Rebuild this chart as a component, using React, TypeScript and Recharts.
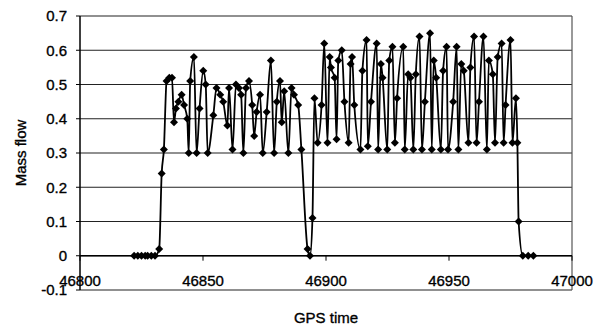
import React from "react";
import { LineChart, Line, XAxis, YAxis, CartesianGrid, ReferenceLine, Label } from "recharts";

const times = [
  46822, 46823.5, 46825, 46826.5, 46827.5, 46829, 46830.5, 46832.2, 46833.2, 46834.1,
  46835.2, 46836.3, 46837.4, 46838.2, 46839, 46840, 46841.3, 46842.3, 46843.6, 46844.2,
  46844.8, 46846.3, 46847.4, 46848.6, 46850.1, 46851.1, 46851.9, 46854.2, 46855.5, 46857,
  46858.2, 46859.9, 46860.6, 46862, 46863.4, 46864.6, 46865.5, 46866.4, 46867.5, 46868.7,
  46870, 46870.8, 46871.8, 46873.2, 46874.3, 46875.9, 46877.6, 46878.9, 46880, 46881.3,
  46882, 46883, 46884.7, 46886, 46887, 46888.7, 46890, 46892.5, 46893.5, 46894.5,
  46895.3, 46896.6, 46898.2, 46899.3, 46900.6, 46901.5, 46902, 46903.5, 46904.3, 46905,
  46906.4, 46907.5, 46909.2, 46910, 46910.6, 46911.5, 46914, 46914.8, 46916.5, 46917,
  46918.3, 46920.6, 46921.2, 46922.3, 46923, 46924.9, 46925.7, 46927, 46928, 46928.9,
  46931.4, 46932, 46933.4, 46934.3, 46935.5, 46936.5, 46938, 46939, 46940.2, 46942.3,
  46943, 46943.8, 46944.8, 46946.7, 46947.6, 46949, 46949.6, 46951.7, 46953.1, 46953.8,
  46955, 46956, 46957.9, 46958.7, 46960.2, 46961.2, 46962.2, 46964, 46965.4, 46966.2,
  46967.8, 46968.7, 46969.8, 46971.4, 46972.2, 46973, 46975, 46975.8, 46977.2, 46977.8,
  46978.3, 46980, 46982.2, 46984.3,
];

const flows = [
  0, 0, 0, 0, 0, 0, 0, 0.02, 0.24, 0.31,
  0.51, 0.52, 0.52, 0.39, 0.43, 0.45, 0.47, 0.44, 0.4, 0.3,
  0.51, 0.58, 0.3, 0.43, 0.54, 0.5, 0.3, 0.41, 0.49, 0.47,
  0.45, 0.38, 0.49, 0.31, 0.5, 0.49, 0.47, 0.3, 0.49, 0.51,
  0.44, 0.35, 0.42, 0.47, 0.3, 0.42, 0.57, 0.3, 0.45, 0.51,
  0.39, 0.48, 0.3, 0.49, 0.47, 0.44, 0.31, 0.02, 0, 0.11,
  0.46, 0.33, 0.44, 0.62, 0.33, 0.58, 0.55, 0.52, 0.34, 0.57,
  0.6, 0.45, 0.33, 0.56, 0.58, 0.44, 0.31, 0.54, 0.63, 0.32,
  0.45, 0.62, 0.31, 0.56, 0.52, 0.31, 0.57, 0.61, 0.33, 0.46,
  0.61, 0.31, 0.53, 0.52, 0.31, 0.53, 0.64, 0.31, 0.45, 0.65,
  0.31, 0.57, 0.52, 0.31, 0.54, 0.61, 0.31, 0.45, 0.61, 0.31,
  0.56, 0.54, 0.33, 0.55, 0.64, 0.33, 0.45, 0.64, 0.31, 0.57,
  0.53, 0.33, 0.58, 0.62, 0.33, 0.44, 0.63, 0.33, 0.46, 0.33,
  0.1, 0, 0, 0,
];

const xTicks = [46800, 46850, 46900, 46950, 47000];
const yTicks = [-0.1, 0, 0.1, 0.2, 0.3, 0.4, 0.5, 0.6, 0.7];

const data = times.map((t, i) => ({ t, v: flows[i] }));

const FONT = "'Liberation Sans', Arial, sans-serif";
const TEXT_STROKE = { stroke: "#000", strokeWidth: 0.35 };

const Diamond = (props: any) => {
  const { cx, cy, index } = props;
  if (cx == null || cy == null) return <g key={`d${index}`} />;
  const r = 4;
  return (
    <path
      key={`d${index}`}
      d={`M${cx},${cy - r}L${cx + r},${cy}L${cx},${cy + r}L${cx - r},${cy}Z`}
      fill="#000"
      stroke="none"
    />
  );
};

const XTick = (props: any) => {
  const { x, y, payload } = props;
  const axisY = y - 34.3;
  return (
    <g>
      <line x1={x} y1={axisY} x2={x} y2={axisY + 5} stroke="#000" strokeWidth={1} />
      <text x={x} y={y - 4} textAnchor="middle" fontFamily={FONT} fontSize={15} fill="#000" {...TEXT_STROKE}>
        {payload.value}
      </text>
    </g>
  );
};

const fmtY = (v: number) => (v === 0 ? "0" : v.toFixed(1));

export default function App() {
  return (
    <div style={{ position: "absolute", left: 0, top: 0, background: "#fff" }}>
      <LineChart
        width={596}
        height={328}
        data={data}
        margin={{ top: 16, right: 24, bottom: 0, left: 20 }}
      >
        <CartesianGrid vertical={false} stroke="#222" strokeWidth={1.2} />
        <XAxis
          dataKey="t"
          type="number"
          domain={[46800, 47000]}
          ticks={xTicks}
          allowDataOverflow
          height={38}
          axisLine={false}
          tickLine={false}
          tickSize={0}
          tickMargin={0}
          tick={<XTick />}
          interval={0}
        >
          <Label
            content={(p: any) => {
              const vb = p.viewBox || {};
              return (
                <text
                  x={vb.x + vb.width / 2}
                  y={vb.y + 33}
                  textAnchor="middle"
                  fontFamily={FONT}
                  fontSize={15}
                  fill="#000"
                  {...TEXT_STROKE}
                >
                  GPS time
                </text>
              );
            }}
          />
        </XAxis>
        <YAxis
          type="number"
          domain={[-0.1, 0.7]}
          ticks={yTicks}
          allowDataOverflow
          width={60}
          axisLine={{ stroke: "#000", strokeWidth: 1.5 }}
          tickLine={{ stroke: "#000" }}
          tickSize={4}
          tickMargin={9}
          tickFormatter={fmtY}
          tick={{ fontFamily: FONT, fontSize: 15, fill: "#000", ...TEXT_STROKE }}
          interval={0}
        >
          <Label
            content={(p: any) => {
              const vb = p.viewBox || {};
              const cx = vb.x;
              const cy = vb.y + vb.height / 2;
              return (
                <text
                  x={cx}
                  y={cy}
                  transform={`rotate(-90, ${cx}, ${cy})`}
                  textAnchor="middle"
                  dominantBaseline="central"
                  fontFamily={FONT}
                  fontSize={15}
                  fill="#000"
                  {...TEXT_STROKE}
                >
                  Mass flow
                </text>
              );
            }}
          />
        </YAxis>
        <ReferenceLine x={47000} stroke="#555" strokeWidth={1.2} />
        <ReferenceLine y={0} stroke="#000" strokeWidth={1.5} />
        <Line
          type="monotone"
          dataKey="v"
          stroke="#000"
          strokeWidth={1.8}
          dot={Diamond}
          activeDot={false}
          isAnimationActive={false}
        />
      </LineChart>
    </div>
  );
}
